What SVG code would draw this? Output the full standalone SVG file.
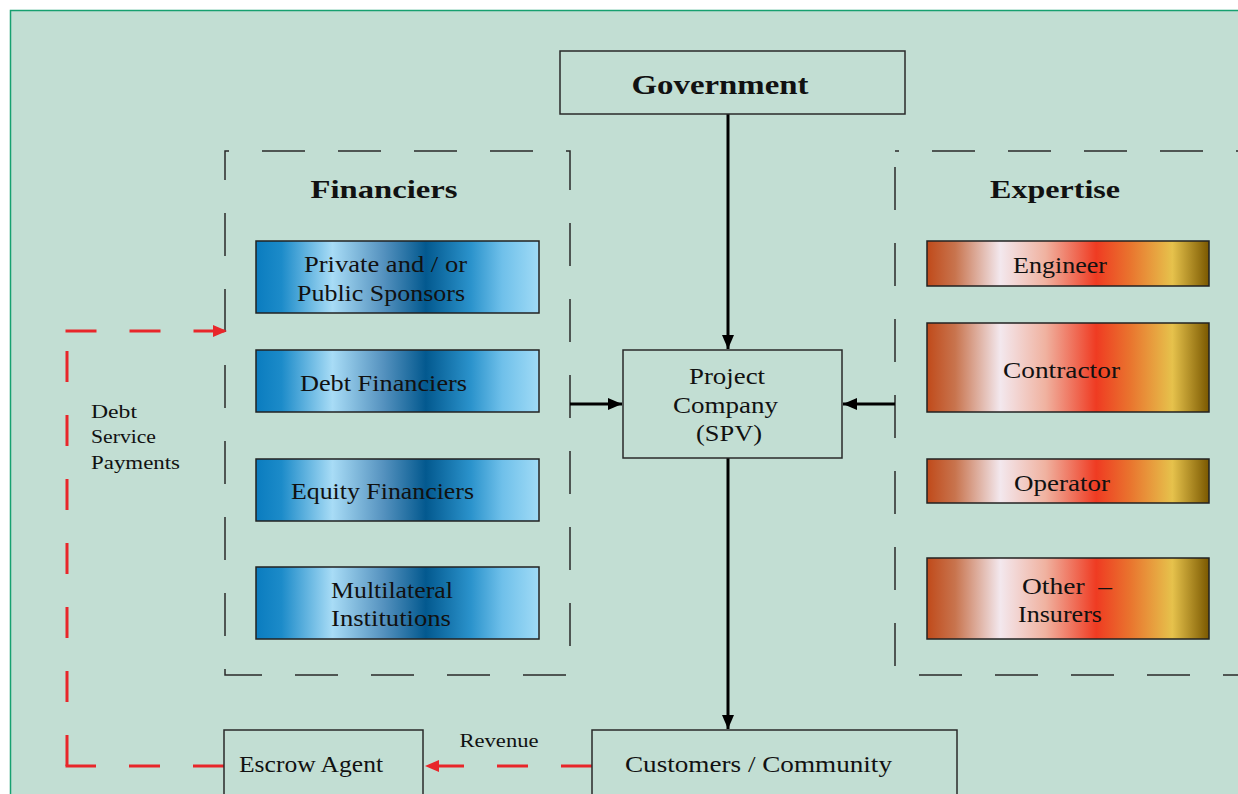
<svg xmlns="http://www.w3.org/2000/svg" width="1238" height="794" viewBox="0 0 1238 794">
<style>
.t{font-family:"Liberation Serif","DejaVu Serif",serif;fill:#111;text-anchor:middle}
.s{text-anchor:start}
.b{font-weight:bold}
.box{fill:#c2ded3;stroke:#2a2a2a;stroke-width:1.5}
.gbox{stroke:#222;stroke-width:1.5}
.grp{fill:none;stroke:#2a2a2a;stroke-width:1.5;stroke-dasharray:43 33;stroke-dashoffset:39}
.blk{stroke:#000;stroke-width:3;fill:none}
.red{stroke:#e8262a;stroke-width:3;fill:none;stroke-dasharray:31 33}
</style>
<defs>
<linearGradient id="blue" x1="0" y1="0" x2="1" y2="0">
<stop offset="0" stop-color="#0a7cbf"/>
<stop offset="0.09" stop-color="#1c8bc9"/>
<stop offset="0.27" stop-color="#a8dcf6"/>
<stop offset="0.45" stop-color="#5592bf"/>
<stop offset="0.6" stop-color="#03598f"/>
<stop offset="0.76" stop-color="#2b93cc"/>
<stop offset="0.87" stop-color="#6fc0ea"/>
<stop offset="1" stop-color="#a0dbf6"/>
</linearGradient>
<linearGradient id="orange" x1="0" y1="0" x2="1" y2="0">
<stop offset="0" stop-color="#c04a1a"/>
<stop offset="0.1" stop-color="#c8744e"/>
<stop offset="0.26" stop-color="#f3e8ee"/>
<stop offset="0.42" stop-color="#f0b2a0"/>
<stop offset="0.6" stop-color="#ef3b22"/>
<stop offset="0.72" stop-color="#e9742e"/>
<stop offset="0.87" stop-color="#e6c24c"/>
<stop offset="1" stop-color="#7a5800"/>
</linearGradient>
<marker id="ab" viewBox="0 0 14 12" refX="14" refY="6" markerWidth="14" markerHeight="12" markerUnits="userSpaceOnUse" orient="auto"><path d="M0,0 L14,6 L0,12 z" fill="#000"/></marker>
<marker id="ar" viewBox="0 0 14 12" refX="14" refY="6" markerWidth="14" markerHeight="12" markerUnits="userSpaceOnUse" orient="auto"><path d="M0,0 L14,6 L0,12 z" fill="#e8262a"/></marker>
</defs>
<rect x="0" y="0" width="1238" height="794" fill="#ffffff"/>
<rect x="10.5" y="10.5" width="1240" height="800" fill="#c2ded3" stroke="#17a070" stroke-width="1.5"/>

<g id="financiers-group">
<rect class="grp" x="225" y="151" width="345" height="524"/>
<text class="t b" x="384" y="198" font-size="26" textLength="147" lengthAdjust="spacingAndGlyphs">Financiers</text>
</g>
<g id="expertise-group">
<rect class="grp" x="895" y="151" width="360" height="524"/>
<text class="t b" x="1055" y="198" font-size="26" textLength="130" lengthAdjust="spacingAndGlyphs">Expertise</text>
</g>

<g id="connectors">
<line class="blk" x1="728" y1="114" x2="728" y2="349" marker-end="url(#ab)"/>
<line class="blk" x1="728" y1="458" x2="728" y2="729" marker-end="url(#ab)"/>
<line class="blk" x1="570" y1="404" x2="622" y2="404" marker-end="url(#ab)"/>
<line class="blk" x1="895" y1="404" x2="843" y2="404" marker-end="url(#ab)"/>
<line class="red" x1="224" y1="766" x2="65.5" y2="766"/>
<line class="red" x1="67" y1="766" x2="67" y2="331" stroke-dasharray="28 28"/>
<line class="red" x1="65.5" y1="331" x2="227" y2="331" stroke-dasharray="32 33" marker-end="url(#ar)"/>
<line class="red" x1="592" y1="766" x2="425" y2="766" stroke-dasharray="27 28" marker-end="url(#ar)"/>
<text class="t" x="499" y="747" font-size="18" textLength="79" lengthAdjust="spacingAndGlyphs">Revenue</text>
<text class="t s" x="91" y="418" font-size="18" textLength="46" lengthAdjust="spacingAndGlyphs">Debt</text>
<text class="t s" x="91" y="443" font-size="18" textLength="65" lengthAdjust="spacingAndGlyphs">Service</text>
<text class="t s" x="91" y="469" font-size="18" textLength="89" lengthAdjust="spacingAndGlyphs">Payments</text>
</g>

<g id="government">
<rect class="box" x="560" y="51" width="345" height="63"/>
<text class="t b" x="720" y="94" font-size="28" textLength="177" lengthAdjust="spacingAndGlyphs">Government</text>
</g>

<g id="project-company">
<rect class="box" x="623" y="350" width="219" height="108"/>
<text class="t" x="727" y="384" font-size="23" textLength="76" lengthAdjust="spacingAndGlyphs">Project</text>
<text class="t" x="725.5" y="413" font-size="23" textLength="105" lengthAdjust="spacingAndGlyphs">Company</text>
<text class="t" x="729" y="441" font-size="23" textLength="66" lengthAdjust="spacingAndGlyphs">(SPV)</text>
</g>

<g id="sponsors">
<rect class="gbox" fill="url(#blue)" x="256" y="241" width="283" height="72"/>
<text class="t" x="385.5" y="272" font-size="23" textLength="163" lengthAdjust="spacingAndGlyphs">Private and / or</text>
<text class="t" x="381" y="301" font-size="23" textLength="168" lengthAdjust="spacingAndGlyphs">Public Sponsors</text>
</g>
<g id="debt-financiers">
<rect class="gbox" fill="url(#blue)" x="256" y="350" width="283" height="62"/>
<text class="t" x="383.5" y="391" font-size="23" textLength="167" lengthAdjust="spacingAndGlyphs">Debt Financiers</text>
</g>
<g id="equity-financiers">
<rect class="gbox" fill="url(#blue)" x="256" y="459" width="283" height="62"/>
<text class="t" x="382.5" y="499" font-size="23" textLength="183" lengthAdjust="spacingAndGlyphs">Equity Financiers</text>
</g>
<g id="multilateral">
<rect class="gbox" fill="url(#blue)" x="256" y="567" width="283" height="72"/>
<text class="t" x="392" y="598" font-size="23" textLength="122" lengthAdjust="spacingAndGlyphs">Multilateral</text>
<text class="t" x="391" y="626" font-size="23" textLength="120" lengthAdjust="spacingAndGlyphs">Institutions</text>
</g>

<g id="engineer">
<rect class="gbox" fill="url(#orange)" x="927" y="241" width="282" height="45"/>
<text class="t" x="1060" y="273" font-size="23" textLength="94" lengthAdjust="spacingAndGlyphs">Engineer</text>
</g>
<g id="contractor">
<rect class="gbox" fill="url(#orange)" x="927" y="323" width="282" height="89"/>
<text class="t" x="1061.5" y="378" font-size="23" textLength="117" lengthAdjust="spacingAndGlyphs">Contractor</text>
</g>
<g id="operator">
<rect class="gbox" fill="url(#orange)" x="927" y="459" width="282" height="44"/>
<text class="t" x="1062" y="491" font-size="23" textLength="96" lengthAdjust="spacingAndGlyphs">Operator</text>
</g>
<g id="insurers">
<rect class="gbox" fill="url(#orange)" x="927" y="558" width="282" height="81"/>
<text class="t" x="1067" y="594" font-size="23" textLength="90" lengthAdjust="spacingAndGlyphs">Other&#160; –</text>
<text class="t" x="1060" y="622" font-size="23" textLength="84" lengthAdjust="spacingAndGlyphs">Insurers</text>
</g>

<g id="escrow-agent">
<rect class="box" x="224" y="730" width="199" height="70"/>
<text class="t" x="311" y="772" font-size="23" textLength="144" lengthAdjust="spacingAndGlyphs">Escrow Agent</text>
</g>
<g id="customers">
<rect class="box" x="592" y="730" width="365" height="70"/>
<text class="t" x="758.5" y="772" font-size="23" textLength="267" lengthAdjust="spacingAndGlyphs">Customers / Community</text>
</g>
</svg>
